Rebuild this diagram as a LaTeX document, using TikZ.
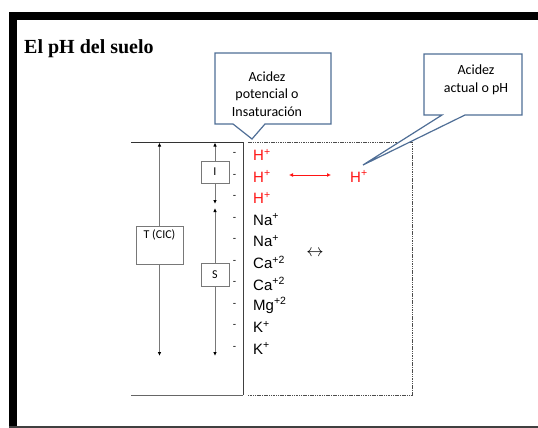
\documentclass[tikz,border=0pt]{standalone}
\usepackage{fontspec}
\setmainfont{Liberation Serif}
\newfontfamily\calib{Carlito}
\newfontfamily\arl{Liberation Sans}
\usetikzlibrary{arrows.meta}
\definecolor{calloutblue}{RGB}{79,110,150}
\definecolor{ionred}{RGB}{255,20,20}
\definecolor{linegray}{RGB}{120,120,120}
\tikzset{
  x=1pt,y=-1pt,
  callout/.style={draw=calloutblue,line width=1.2pt,fill=white,line join=miter},
  callouttext/.style={font=\calib\fontsize{14}{17.5}\selectfont,align=center,inner sep=0pt},
  ion/.style={font=\arl\fontsize{15}{15}\selectfont,anchor=west,inner sep=0pt},
  dashmark/.style={font=\arl\fontsize{10}{10}\selectfont,inner sep=0pt},
  smallbox/.style={draw=linegray,line width=0.8pt,fill=white,font=\calib\fontsize{12}{16}\selectfont,inner sep=0pt},
  vline/.style={draw=linegray,line width=0.8pt},
  vtip/.style={-{Latex[length=4pt,width=3.5pt,color=black]}},
  frameline/.style={draw=black!75,line width=0.9pt},
}
\begin{document}
\begin{tikzpicture}
\useasboundingbox (0,0) rectangle (538,428);
% outer frame
\fill[black] (9,12) rectangle (538,20);
\fill[black] (9,12) rectangle (17,428);
\fill[black!75] (9,426) rectangle (538,428);
% title
\node[anchor=base west,inner sep=0pt,font=\bfseries\fontsize{20}{20}\selectfont] (title) at (24,54) {El pH del suelo};

% left structure
\coordinate (tl) at (131,142);
\coordinate (tr) at (243,142);
\coordinate (br) at (243,395);
\coordinate (bl) at (131,395);
\draw[draw=black!80,line width=1pt] (tl) -- (tr);
\draw[frameline] (tr) -- (br);
\draw[draw=black!60,line width=0.9pt] (bl) -- (br);
% dashed box
\coordinate (dtl) at (248,142);
\coordinate (dtr) at (412,142);
\coordinate (dbr) at (412,395);
\coordinate (dbl) at (248,395);
\draw[draw=black!70,line width=0.9pt,dash pattern=on 1.5pt off 0.8pt] (dtl) -- (dtr) -- (dbr) -- (dbl);

% T (CIC)
\node[smallbox,minimum width=47pt,minimum height=38pt,align=center] (T) at (159.5,245) {T (CIC)\\\strut};
\coordinate (Ttop) at (159.5,142.5);
\coordinate (Tbot) at (159.5,356);
\draw[vline,vtip] (T.north) -- (Ttop);
\draw[vline,vtip] (T.south) -- (Tbot);

% I and S
\node[smallbox,minimum width=28pt,minimum height=22pt] (I) at (215,172) {I};
\node[smallbox,minimum width=28pt,minimum height=23pt] (S) at (215,274.5) {S};
\coordinate (Itop) at (215,142.5);
\coordinate (Ibot) at (215,204);
\coordinate (Stop) at (215,208);
\coordinate (Sbot) at (215,356);
\draw[vline,vtip] (I.north) -- (Itop);
\draw[vline,vtip] (I.south) -- (Ibot);
\draw[vline,vtip] (S.north) -- (Stop);
\draw[vline,vtip] (S.south) -- (Sbot);

% dashes
\foreach \i/\yy in {1/155,2/176.5,3/198,4/219.5,5/241,6/262.5,7/284,8/305.5,9/327,10/348.5}{
  \node[dashmark] (d\i) at (234.5,\yy-1) {-};
}
% ions
\node[ion,text=ionred] (h1) at (253,155) {H\textsuperscript{+}};
\node[ion,text=ionred] (h2) at (253,176.5) {H\textsuperscript{+}};
\node[ion,text=ionred] (h3) at (253,198) {H\textsuperscript{+}};
\node[ion] (na1) at (253,219.5) {Na\textsuperscript{+}};
\node[ion] (na2) at (253,241) {Na\textsuperscript{+}};
\node[ion] (ca1) at (253,262.5) {Ca\textsuperscript{+2}};
\node[ion] (ca2) at (253,284) {Ca\textsuperscript{+2}};
\node[ion] (mg) at (253,305.5) {Mg\textsuperscript{+2}};
\node[ion] (k1) at (253,327) {K\textsuperscript{+}};
\node[ion] (k2) at (253,348.5) {K\textsuperscript{+}};
\node[ion,text=ionred] (hr) at (350,176.5) {H\textsuperscript{+}};
% red exchange arrow
\coordinate (ra1) at (289,175);
\coordinate (ra2) at (331,175);
\draw[draw=ionred,line width=0.9pt,{Latex[length=4pt,width=4pt]}-{Latex[length=4pt,width=4pt]}] (ra1) -- (ra2);
% black exchange symbol
\node[inner sep=0pt,font=\fontsize{16}{16}\selectfont] (ex) at (315,253) {$\leftrightarrow$};

% callout 1
\coordinate (c1tip) at (252,139);
\draw[callout] (215,53) -- (331,53) -- (331,124) -- (265,124) -- (c1tip) -- (233,124) -- (215,124) -- cycle;
\node[callouttext] (c1) at (267,94) {Acidez\\potencial o\\Insaturación};
% callout 2
\coordinate (c2tip) at (363,165);
\draw[callout] (424,54) -- (522,54) -- (522,115) -- (465,115) -- (c2tip) -- (442,115) -- (424,115) -- cycle;
\node[callouttext] (c2) at (476,80) {Acidez\\actual o pH};
\end{tikzpicture}
\end{document}
